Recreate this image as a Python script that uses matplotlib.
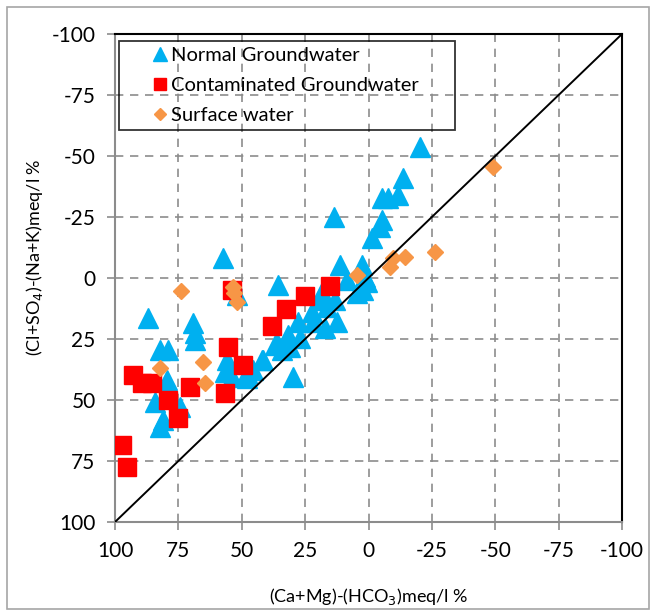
import matplotlib
matplotlib.use("Agg")
import matplotlib.pyplot as plt
from matplotlib.patches import Rectangle
import numpy as np

plt.rcParams['font.family'] = ['Lato', 'DejaVu Sans']

# Normal groundwater (x, y)
normal_x = [-20.5, -13.7, -5.2, -7.8, -11.8, -5.2, -4.5, -1.2, 13.8, 11.2,
            2.5, 1.4, 0.7, 8.6, 3.4, 4.7, 35.6, 18.5, 13.2, 19.1,
            16.5, 22.4, 27.7, 21.8, 12.6, 17.2, 31.6, 27.0, 36.2, 31.0,
            34.3, 42.2, 48.1, 45.5, 29.7, 57.5, 86.9, 69.1, 68.4, 68.4,
            82.2, 79.0, 79.6, 84.2, 81.0, 82.2, 74.4, 56.0, 56.6, 54.0,
            48.1, 41.5, 36.9, 52.0, 2.0]
normal_y = [-53.8, -40.9, -32.7, -32.7, -34.0, -23.8, -21.0, -16.3, -25.1, -5.3,
            -5.3, -0.5, 1.5, 0.8, 3.6, 6.3, 2.9, 5.6, 9.0, 9.0,
            11.8, 13.8, 17.9, 17.9, 17.9, 20.6, 23.3, 24.7, 26.8, 28.2,
            29.5, 33.6, 39.1, 37.7, 40.4, -8.1, 16.5, 18.6, 25.4, 22.5,
            29.5, 29.5, 41.8, 50.7, 58.2, 61.0, 52.7, 33.6, 38.4, 40.4,
            41.1, 33.6, 27.5, 7.0, 4.9]

# Contaminated groundwater
contam_x = [97.4, 95.4, 92.8, 89.5, 85.5, 79.0, 75.0, 70.4, 55.3, 56.6,
            49.4, 53.7, 38.2, 32.7, 24.9, 15.3]
contam_y = [68.4, 77.3, 39.8, 43.1, 43.1, 50.0, 57.5, 44.5, 28.2, 47.3,
            35.7, 4.9, 19.7, 12.6, 7.2, 3.3]

# Surface water
surface_x = [-49.2, -26.2, -14.4, -9.8, -8.5, 4.7, 74.0, 53.6, 52.0, 53.0,
             82.2, 65.2, 64.5]
surface_y = [-45.6, -10.8, -8.7, -8.1, -4.6, -1.2, 5.2, 3.8, 9.7, 6.0,
             37.0, 34.3, 43.1]

ticks = [100, 75, 50, 25, 0, -25, -50, -75, -100]

fig = plt.figure(figsize=(6.56, 6.16), dpi=100)
ax = fig.add_axes([115/656, 1-522/616, 507/656, 488/616])

ax.plot(normal_x, normal_y, linestyle='none', marker='^', markersize=14,
        color='#00B0F0', label='Normal Groundwater', zorder=3)
ax.plot(contam_x, contam_y, linestyle='none', marker='s', markersize=13.5,
        color='#FF0000', label='Contaminated Groundwater', zorder=4)
ax.plot(surface_x, surface_y, linestyle='none', marker='D', markersize=8.5,
        color='#F79646', label='Surface water', zorder=5)
ax.plot([100, -100], [100, -100], color='black', linewidth=1.4, zorder=6)

ax.set_xlim(100, -100)
ax.set_ylim(100, -100)
ax.set_xticks(ticks)
ax.set_yticks(ticks)
ax.set_xticklabels([str(t) for t in ticks])
ax.set_yticklabels([str(t) for t in ticks])
ax.tick_params(axis='both', direction='out', length=6, width=1.2,
               color='#8c8c8c', labelsize=15, pad=8)
ax.grid(True, color='#8c8c8c', linestyle=(0, (5, 4)), linewidth=1.2)
ax.set_axisbelow(True)

ax.spines['left'].set_color('#8c8c8c')
ax.spines['bottom'].set_color('#8c8c8c')
ax.spines['left'].set_linewidth(1.5)
ax.spines['bottom'].set_linewidth(1.5)
ax.spines['top'].set_color('black')
ax.spines['right'].set_color('black')
ax.spines['top'].set_linewidth(1.5)
ax.spines['right'].set_linewidth(1.5)

ax.set_xlabel('(Ca+Mg)-(HCO$_3$)meq/l %', fontsize=13, labelpad=18)
ax.set_ylabel('(Cl+SO$_4$)-(Na+K)meq/l %', fontsize=13)
ax.yaxis.set_label_coords(-0.138, 0.542)

leg = ax.legend(loc='upper left', bbox_to_anchor=(4/507, 0.7863, 336/507, 0.2),
                mode='expand', fontsize=14.5, frameon=True, fancybox=False,
                borderaxespad=0, handlelength=3.45, handletextpad=-1.18,
                labelspacing=0.63, borderpad=0.31, numpoints=1,
                markerscale=0.67)
leg.get_frame().set_edgecolor('black')
leg.get_frame().set_facecolor('none')
leg.get_frame().set_linewidth(1.3)

fig.patches.append(Rectangle((7/656, 7/616), 642/656, 602/616,
                             transform=fig.transFigure, fill=False,
                             edgecolor='#a6a6a6', linewidth=1.2))

fig.savefig('out.png', dpi=100)
